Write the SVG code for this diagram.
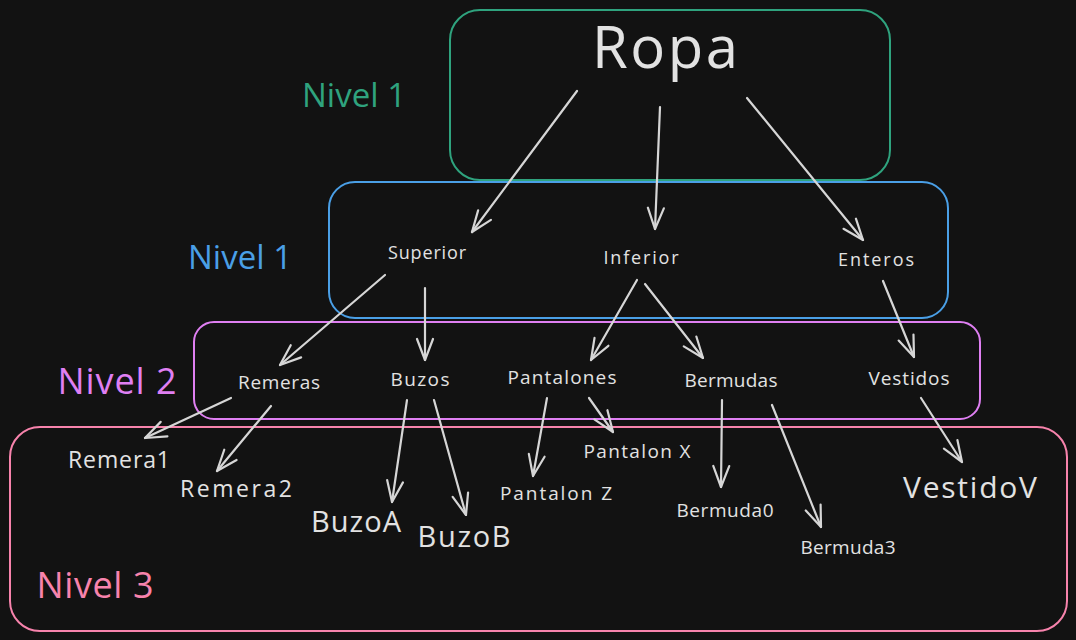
<svg xmlns="http://www.w3.org/2000/svg" width="1076" height="640" viewBox="0 0 1076 640">
<style>
text{font-family:"Open Sans","Liberation Sans",sans-serif;fill:#e2e2e2;text-anchor:middle}
.box{fill:none;stroke-width:2}
.c{fill:none;stroke:#d6d6d6;stroke-width:2.2;stroke-linecap:round}
</style>
<defs>
<marker id="ah" markerUnits="userSpaceOnUse" markerWidth="40" markerHeight="40" refX="0" refY="0" viewBox="-25 -20 40 40" orient="auto">
<path d="M-21 -8 L0 0 L-21 8" fill="none" stroke="#d6d6d6" stroke-width="2.2" stroke-linecap="round" stroke-linejoin="round"/>
</marker>
</defs>
<rect width="1076" height="640" fill="#121212"/>
<g id="level1-box"><rect class="box" x="450" y="10" width="440" height="170" rx="30" stroke="#2fa37e"/></g>
<g id="level1b-box"><rect class="box" x="329" y="182" width="619" height="136" rx="26" stroke="#4a9fe6"/></g>
<g id="level2-box"><rect class="box" x="194" y="322" width="786" height="97" rx="20" stroke="#df7ff2"/></g>
<g id="level3-box"><rect class="box" x="10" y="427" width="1057" height="204" rx="30" stroke="#f783ac"/></g>
<g id="labels">
<text x="354" y="107" font-size="33" style="fill:#2fa37e" textLength="104">Nivel 1</text>
<text x="240" y="269" font-size="33" style="fill:#4a9fe6" textLength="104">Nivel 1</text>
<text x="117" y="394" font-size="36" style="fill:#df7ff2" textLength="119">Nivel 2</text>
<text x="95" y="598" font-size="36" style="fill:#f783ac" textLength="117">Nivel 3</text>
</g>
<g id="connectors">
<line class="c" x1="577" y1="91" x2="472" y2="232" marker-end="url(#ah)"/>
<line class="c" x1="660" y1="107" x2="655" y2="229" marker-end="url(#ah)"/>
<line class="c" x1="747" y1="98" x2="863" y2="240" marker-end="url(#ah)"/>
<line class="c" x1="385" y1="275" x2="280" y2="365" marker-end="url(#ah)"/>
<line class="c" x1="425" y1="288" x2="425" y2="360" marker-end="url(#ah)"/>
<line class="c" x1="637" y1="280" x2="591" y2="360" marker-end="url(#ah)"/>
<line class="c" x1="645" y1="284" x2="703" y2="358" marker-end="url(#ah)"/>
<line class="c" x1="883" y1="281" x2="914" y2="357" marker-end="url(#ah)"/>
<line class="c" x1="231" y1="398" x2="145" y2="438" marker-end="url(#ah)"/>
<line class="c" x1="271" y1="406" x2="217" y2="471" marker-end="url(#ah)"/>
<line class="c" x1="407" y1="400" x2="392" y2="502" marker-end="url(#ah)"/>
<line class="c" x1="434" y1="400" x2="466" y2="515" marker-end="url(#ah)"/>
<line class="c" x1="547" y1="398" x2="533" y2="476" marker-end="url(#ah)"/>
<line class="c" x1="589" y1="398" x2="613" y2="432" marker-end="url(#ah)"/>
<line class="c" x1="722" y1="400" x2="721" y2="487" marker-end="url(#ah)"/>
<line class="c" x1="772" y1="405" x2="821" y2="527" marker-end="url(#ah)"/>
<line class="c" x1="921" y1="398" x2="962" y2="462" marker-end="url(#ah)"/>
</g>
<g id="ropa"><text x="665" y="68" font-size="58" textLength="146">Ropa</text></g>
<g id="superior"><text x="427" y="259" font-size="18" textLength="78">Superior</text></g>
<g id="inferior"><text x="641" y="264" font-size="18" textLength="75">Inferior</text></g>
<g id="enteros"><text x="876" y="266" font-size="18" textLength="76">Enteros</text></g>
<g id="remeras"><text x="279" y="389" font-size="19" textLength="82">Remeras</text></g>
<g id="buzos"><text x="420" y="386" font-size="19" textLength="59">Buzos</text></g>
<g id="pantalones"><text x="562" y="384" font-size="19" textLength="109">Pantalones</text></g>
<g id="bermudas"><text x="731" y="387" font-size="19" textLength="93">Bermudas</text></g>
<g id="vestidos"><text x="909" y="385" font-size="19" textLength="81">Vestidos</text></g>
<g id="remera1"><text x="119" y="468" font-size="23" textLength="102">Remera1</text></g>
<g id="remera2"><text x="236" y="497" font-size="23" textLength="112">Remera2</text></g>
<g id="buzoa"><text x="356" y="532" font-size="29" textLength="90">BuzoA</text></g>
<g id="buzob"><text x="464" y="547" font-size="29" textLength="93">BuzoB</text></g>
<g id="pantalonz"><text x="556" y="500" font-size="19" textLength="112">Pantalon Z</text></g>
<g id="pantalonx"><text x="637" y="458" font-size="19" textLength="107">Pantalon X</text></g>
<g id="bermuda0"><text x="725" y="517" font-size="19" textLength="97">Bermuda0</text></g>
<g id="bermuda3"><text x="848" y="554" font-size="19" textLength="95">Bermuda3</text></g>
<g id="vestidov"><text x="970" y="498" font-size="30" textLength="134">VestidoV</text></g>
</svg>
